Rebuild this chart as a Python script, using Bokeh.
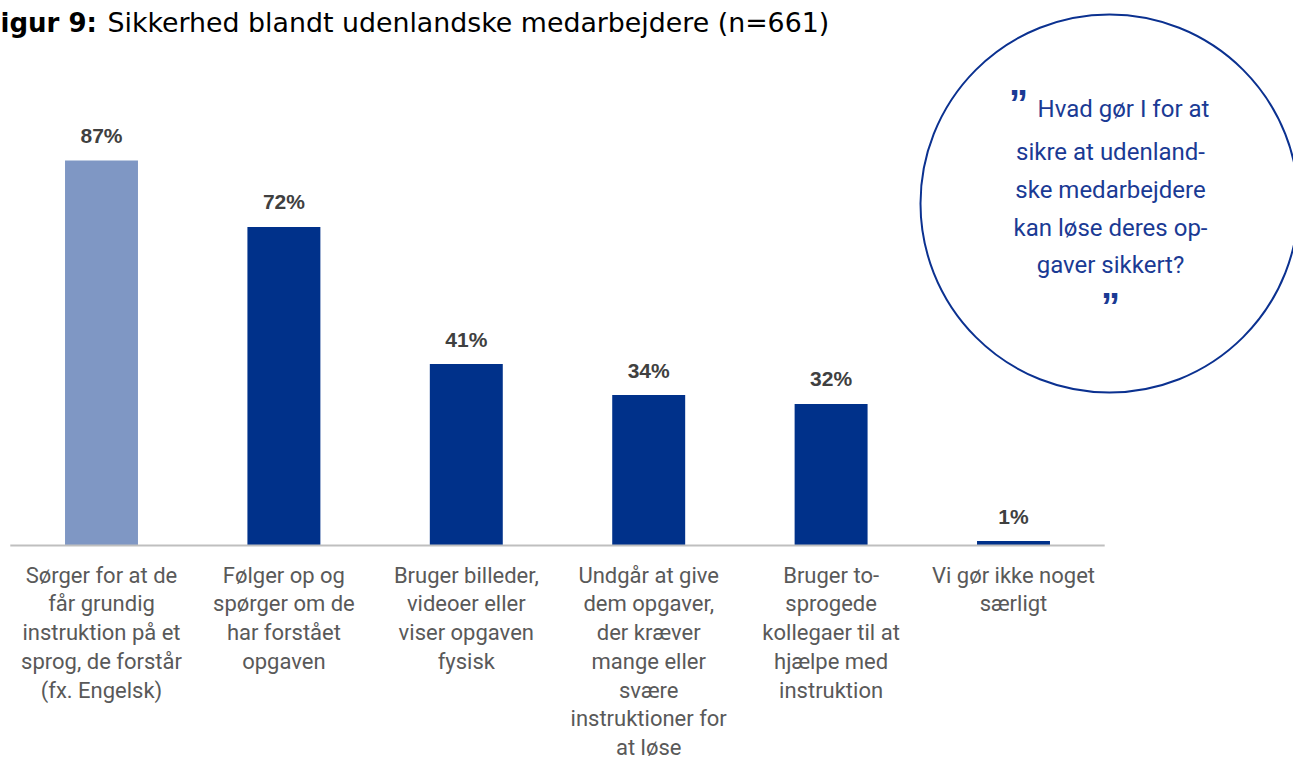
from bokeh.plotting import figure
from bokeh.models import Range1d
from bokeh.core.properties import value
from bokeh.embed import file_html
from bokeh.resources import INLINE

# ---------------- data ----------------
categories = [
    "Sørger for at de\nfår grundig\ninstruktion på et\nsprog, de forstår\n(fx. Engelsk)",
    "Følger op og\nspørger om de\nhar forstået\nopgaven",
    "Bruger billeder,\nvideoer eller\nviser opgaven\nfysisk",
    "Undgår at give\ndem opgaver,\nder kræver\nmange eller\nsvære\ninstruktioner for\nat løse",
    "Bruger to-\nsprogede\nkollegaer til at\nhjælpe med\ninstruktion",
    "Vi gør ikke noget\nsærligt",
]
values = [87, 72, 41, 34, 32, 1]
value_labels = ["87%", "72%", "41%", "34%", "32%", "1%"]
bar_colors = ["#7F97C4", "#00318A", "#00318A", "#00318A", "#00318A", "#00318A"]
title_bold = "igur 9:"
title_rest = "Sikkerhed blandt udenlandske medarbejdere (n=661)"
quote_lines = ["Hvad gør I for at", "sikre at udenland-", "ske medarbejdere",
               "kan løse deres op-", "gaver sikkert?"]

# ---------------- layout helpers (screen px -> data) ----------------
W, H = 1293, 762
OFF = 0                     # canvas offset on screen
X0, STEP = 101.0, 182.4     # screen x of first bar centre, px per category
Y0, PPU = 545.0, 4.425      # screen y of baseline, px per percent


def dx(px):
    return (px - X0) / STEP


def dy(py):
    return (Y0 - py) / PPU


xs = list(range(len(categories)))

p = figure(width=W, height=H,
           x_range=Range1d(dx(OFF), dx(OFF + W)), y_range=Range1d(dy(OFF + H), dy(OFF)),
           output_backend="svg", toolbar_location=None,
           x_axis_location=None, y_axis_location=None,
           min_border=0, min_border_left=0, min_border_right=0,
           min_border_top=0, min_border_bottom=0)
p.grid.visible = False
p.outline_line_color = None
p.background_fill_color = "white"
p.border_fill_color = "white"

# bars
p.vbar(x=xs, top=values, width=0.4, bottom=0, fill_color=bar_colors, line_color=None)

# baseline
p.line(x=[-0.5, len(categories) - 0.5], y=[0, 0], line_color="#BFBFBF", line_width=2)

# value labels
p.text(x=xs, y=values, text=value_labels, text_align="center", text_baseline="middle",
       y_offset=-25, text_font=value("Liberation Sans"), text_font_style="bold",
       text_font_size="21px", text_color="#404040")

# category labels
p.text(x=xs, y=[0] * len(xs), text=categories, text_align="center", text_baseline="top",
       y_offset=17, text_font=value("Roboto"), text_font_size="22px",
       text_color="#595959", text_line_height=1.15)

# title
p.text(x=[dx(0)], y=[dy(22)], text=[title_bold], text_align="left", text_baseline="middle",
       text_font=value("DejaVu Sans"), text_font_style="bold", text_font_size="26px",
       text_color="#000000")
p.text(x=[dx(107)], y=[dy(22)], text=[title_rest], text_align="left", text_baseline="middle",
       text_font=value("DejaVu Sans"), text_font_size="26.8px", text_color="#000000")

# quote circle
p.scatter(x=[dx(1109)], y=[dy(203)], size=378, marker="circle", fill_color=None,
          line_color="#0B3190", line_width=2)
line_x = [1123, 1110, 1110, 1110, 1110]
line_y = [108, 151, 189, 227, 264]
p.text(x=[dx(v) for v in line_x], y=[dy(v) for v in line_y], text=quote_lines,
       text_align="center", text_baseline="middle", text_font=value("Roboto"),
       text_font_size="24px", text_color="#1A3A94")
p.text(x=[dx(1018), dx(1110)], y=[dy(103), dy(306)], text=["\u201d", "\u201d"],
       text_align="center", text_baseline="alphabetic", text_font=value("Liberation Sans"),
       text_font_style="bold", text_font_size="38px", text_color="#1A3A94")

open("out.html", "w").write(file_html(p, INLINE))
